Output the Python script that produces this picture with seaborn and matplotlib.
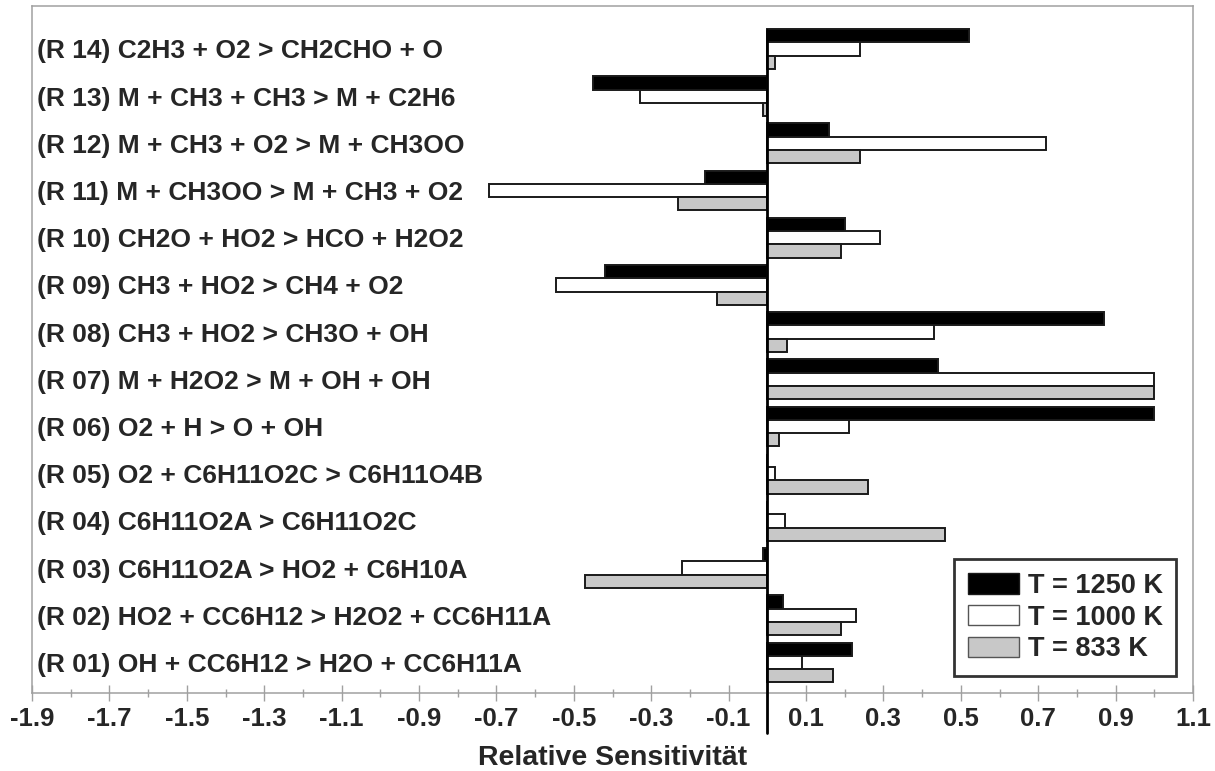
import matplotlib
matplotlib.use("Agg")
import matplotlib.pyplot as plt
from matplotlib.patches import Patch
from matplotlib.ticker import FixedLocator, FuncFormatter
import numpy as np
import pandas as pd
import seaborn as sns

# Reactions, listed top to bottom
reactions = [
    "(R 14) C2H3 + O2 > CH2CHO + O",
    "(R 13) M + CH3 + CH3 > M + C2H6",
    "(R 12) M + CH3 + O2 > M + CH3OO",
    "(R 11) M + CH3OO > M + CH3 + O2",
    "(R 10) CH2O + HO2 > HCO + H2O2",
    "(R 09) CH3 + HO2 > CH4 + O2",
    "(R 08) CH3 + HO2 > CH3O + OH",
    "(R 07) M + H2O2 > M + OH + OH",
    "(R 06) O2 + H > O + OH",
    "(R 05) O2 + C6H11O2C > C6H11O4B",
    "(R 04) C6H11O2A > C6H11O2C",
    "(R 03) C6H11O2A > HO2 + C6H10A",
    "(R 02) HO2 + CC6H12 > H2O2 + CC6H11A",
    "(R 01) OH + CC6H12 > H2O + CC6H11A",
]

# Relative sensitivities per temperature
sens_1250 = [0.52, -0.45, 0.16, -0.16, 0.20, -0.42, 0.87, 0.44, 1.00, 0.00, 0.00, -0.01, 0.04, 0.22]
sens_1000 = [0.24, -0.33, 0.72, -0.72, 0.29, -0.545, 0.43, 1.00, 0.21, 0.02, 0.045, -0.22, 0.23, 0.09]
sens_833 = [0.02, -0.01, 0.24, -0.23, 0.19, -0.13, 0.05, 1.00, 0.03, 0.26, 0.46, -0.47, 0.19, 0.17]

series_labels = ["T = 1250 K", "T = 1000 K", "T = 833 K"]
series_colors = ["#000000", "#ffffff", "#c8c8c8"]

x_major = [round(v, 1) for v in np.arange(-1.9, 1.11, 0.2)]
x_minor = [round(v, 1) for v in np.arange(-1.8, 1.01, 0.2)]

df = pd.DataFrame({
    "reaction": reactions * 3,
    "value": sens_1250 + sens_1000 + sens_833,
    "series": [series_labels[0]] * len(reactions)
    + [series_labels[1]] * len(reactions)
    + [series_labels[2]] * len(reactions),
})

sns.set_theme(style="white")
plt.rcParams["font.family"] = ["Liberation Sans", "DejaVu Sans"]
plt.rcParams["font.weight"] = "bold"
plt.rcParams["axes.unicode_minus"] = False

fig = plt.figure(figsize=(12.15, 7.71), dpi=100)
ax = fig.add_axes([0.02634, 0.10117, 0.95556, 0.89105])

sns.barplot(
    data=df, y="reaction", x="value", hue="series",
    order=reactions, hue_order=series_labels,
    palette=series_colors, orient="h", width=0.845,
    edgecolor="#1a1a1a", linewidth=1.4, legend=False, ax=ax,
)

ax.set_xlim(-1.9, 1.1)
ax.set_ylim(13.647, -0.911)

# Frame
for side in ["top", "left", "right", "bottom"]:
    ax.spines[side].set_color("#a0a0a0")
    ax.spines[side].set_linewidth(1.1)

# x axis ticks
ax.xaxis.set_major_locator(FixedLocator(x_major))
ax.xaxis.set_minor_locator(FixedLocator(x_minor))
ax.xaxis.set_major_formatter(FuncFormatter(lambda v, p: f"{v:.1f}"))
ax.tick_params(axis="x", which="major", direction="inout", length=12, width=1.0,
               color="#a0a0a0", labelsize=18.5, pad=4, bottom=True)
ax.tick_params(axis="x", which="minor", direction="inout", length=6, width=1.0,
               color="#a0a0a0", bottom=True)
for lbl in ax.get_xticklabels():
    lbl.set_fontweight("bold")

# Reaction labels sit inside the frame, left-aligned
ax.tick_params(axis="y", length=0, pad=-3.5, labelsize=19)
for lbl in ax.get_yticklabels():
    lbl.set_ha("left")
    lbl.set_fontweight("bold")
ax.set_ylabel("")

ax.set_xlabel("Relative Sensitivität", fontsize=20.5, fontweight="bold", labelpad=10)

# Category axis at zero
ax.axvline(0, ymin=-0.058, ymax=0.965, color="black", linewidth=2.0,
           clip_on=False, zorder=5)

handles = [Patch(facecolor=c, edgecolor="#1a1a1a" if c == "#000000" else "#555555",
                 linewidth=1.0) for c in series_colors]
leg = ax.legend(handles, series_labels, loc="lower right",
                bbox_to_anchor=(0.9854, 0.0247), borderaxespad=0,
                fancybox=False, frameon=True, edgecolor="black",
                prop={"size": 19.5, "weight": "bold"},
                handlelength=1.9, handleheight=0.8, handletextpad=0.3,
                labelspacing=0.22, borderpad=0.5)
leg.get_frame().set_linewidth(2.0)

fig.savefig("out.png", dpi=100)
